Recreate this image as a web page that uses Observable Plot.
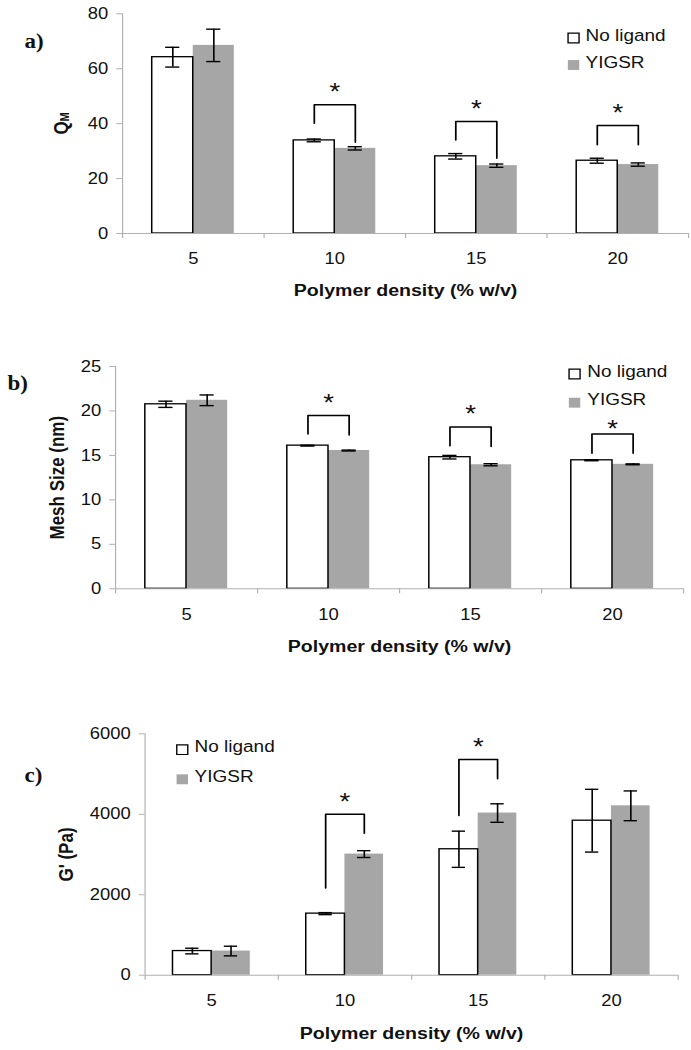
<!DOCTYPE html>
<html><head><meta charset="utf-8">
<script src="https://cdn.jsdelivr.net/npm/d3@7"></script>
<script src="https://cdn.jsdelivr.net/npm/@observablehq/plot@0.6"></script>
<style>
html,body{margin:0;padding:0;background:#fff;}
#fig{position:relative;width:691px;height:1050px;overflow:hidden;background:#fff;}
#fig svg{position:absolute;left:0;transform-origin:0 0;overflow:visible;}
</style></head><body><div id="fig"></div>
<script>
// ---------- data ----------
const categories = [5, 10, 15, 20];            // polymer density (% w/v)
const series = ["No ligand", "YIGSR"];

// a) Q_M
const qmNoLigand    = [64.2, 33.9, 28.1, 26.5];
const qmNoLigandErr = [3.6, 0.5, 1.0, 0.9];
const qmYIGSR       = [68.5, 31.0, 24.7, 25.1];
const qmYIGSRErr    = [5.9, 0.6, 0.6, 0.6];
const qmTicks       = [0, 20, 40, 60, 80];
const qmSigCats  = [10, 15, 20];
const qmSigTop   = [46.9, 40.8, 39.3];
const qmSigLeft  = [40.1, 34.0, 32.3];
const qmSigRight = [33.2, 27.4, 32.3];
const qmSigStar  = [53.5, 47.4, 46.0];

// b) Mesh size (nm)
const meshNoLigand    = [20.75, 16.1, 14.8, 14.45];
const meshNoLigandErr = [0.35, 0.05, 0.2, 0.05];
const meshYIGSR       = [21.2, 15.55, 13.95, 14.0];
const meshYIGSRErr    = [0.6, 0.05, 0.12, 0.05];
const meshTicks       = [0, 5, 10, 15, 20, 25];
const meshSigCats  = [10, 15, 20];
const meshSigTop   = [19.5, 18.2, 17.4];
const meshSigLeft  = [17.4, 16.1, 15.25];
const meshSigRight = [17.3, 16.0, 15.25];
const meshSigStar  = [21.5, 20.3, 18.6];

// c) G' (Pa)
const gNoLigand    = [600, 1530, 3130, 3840];
const gNoLigandErr = [70, 25, 450, 780];
const gYIGSR       = [600, 3010, 4030, 4210];
const gYIGSRErr    = [120, 85, 230, 370];
const gTicks       = [0, 2000, 4000, 6000];
const gSigCats  = [10, 15];
const gSigTop   = [4000, 5360];
const gSigLeft  = [2170, 3970];
const gSigRight = [3530, 4880];
const gSigStar  = [4440, 5820];

// ---------- drawing ----------
const S = 1.15, W = 691;
const GRAY = "#a6a6a6", AXIS = "#b0b0b0", INK = "#111";
const SANS = "'Liberation Sans', Arial, Helvetica, sans-serif";
const SERIF = "'Liberation Serif', 'Times New Roman', serif";
const fig = document.getElementById("fig");

function panel(p) {
  const step = categories[1] - categories[0];
  const xDomain = [categories[0] - step / 2, categories[categories.length - 1] + step / 2];
  const boundaries = [xDomain[0], ...categories.map(c => c + step / 2)];
  const bw = step * 0.29, cap = step * 0.05;
  const ml = p.left / S, mr = (W - p.right) / S;
  const mt = p.yTop - p.top, mb = p.top + p.height - p.yZero;
  const at = (xt, yt) => ({frameAnchor: "top-left", dx: xt / S - ml, dy: yt - p.yTop, lineAnchor: "middle"});

  const bars = [];
  series.forEach((name, s) => categories.forEach((c, i) => bars.push({
    c, s, v: p.values[s][i], e: p.errors[s][i], x: c + (s === 0 ? -bw / 2 : bw / 2)
  })));
  const brackets = [];
  p.sig.cats.forEach((c, k) => {
    brackets.push(
      {g: k, x: c - bw / 2, y: p.sig.left[k]},
      {g: k, x: c - bw / 2, y: p.sig.top[k]},
      {g: k, x: c + bw / 2, y: p.sig.top[k]},
      {g: k, x: c + bw / 2, y: p.sig.right[k]});
  });

  const marks = [
    Plot.rectY(bars.filter(d => d.s === 1), {x1: d => d.c, x2: d => d.c + bw, y: "v", fill: GRAY}),
    Plot.rectY(bars.filter(d => d.s === 0), {x1: d => d.c - bw, x2: d => d.c, y: "v", fill: "white", stroke: "black", strokeWidth: 1.3}),
    Plot.ruleY([0], {stroke: AXIS}),
    Plot.ruleX([xDomain[0]], {stroke: AXIS}),
    Plot.axisY({ticks: p.ticks, tickSize: 5, tickPadding: 7.5, tickFormat: d3.format("d"), stroke: AXIS, fill: INK, fontSize: 16, label: null}),
    Plot.axisX({ticks: boundaries, tickSize: 5, tickFormat: () => "", stroke: AXIS, label: null}),
    Plot.axisX({ticks: categories, tickSize: 0, tickPadding: 19.5, tickFormat: d3.format("d"), fill: INK, fontSize: 16, label: null}),
    Plot.ruleX(bars, {x: "x", y1: d => d.v - d.e, y2: d => d.v + d.e, stroke: "black", strokeWidth: 1.4}),
    Plot.ruleY(bars, {y: d => d.v - d.e, x1: d => d.x - cap, x2: d => d.x + cap, stroke: "black", strokeWidth: 1.4}),
    Plot.ruleY(bars, {y: d => d.v + d.e, x1: d => d.x - cap, x2: d => d.x + cap, stroke: "black", strokeWidth: 1.4}),
    Plot.line(brackets, {x: "x", y: "y", z: "g", stroke: "black", strokeWidth: 1.5}),
    Plot.text(p.sig.cats, {x: d => d, y: (d, k) => p.sig.star[k], text: () => "*", fontSize: 24, dy: 6, lineAnchor: "middle", fill: INK}),
    // legend
    Plot.dot([0], {...at(p.legend.sqX, p.legend.y[0] + 2.5), symbol: "square", r: 5.4, fill: "white", stroke: "black", strokeWidth: 1.2}),
    Plot.dot([0], {...at(p.legend.sqX, p.legend.y[1] + 2.5), symbol: "square", r: 5.6, fill: GRAY}),
    Plot.text([series[0]], {...at(p.legend.txtX, p.legend.y[0]), text: d => d, textAnchor: "start", fontSize: 16.5, fill: INK}),
    Plot.text([series[1]], {...at(p.legend.txtX, p.legend.y[1]), text: d => d, textAnchor: "start", fontSize: 16.5, fill: INK}),
    // panel label
    Plot.text([p.label.text], {...at(p.label.x, p.label.y), text: d => d, textAnchor: "start", fontFamily: SERIF, fontWeight: "bold", fontSize: 20, fill: INK}),
    // x title
    Plot.text(["Polymer density (% w/v)"], {frameAnchor: "bottom", dy: p.xTitleY - p.yZero, lineAnchor: "middle", text: d => d, fontWeight: "bold", fontSize: 17, fill: INK}),
    // y title parts
    ...p.yTitle.map(t => Plot.text([t.text], {...at(t.x, t.y), text: d => d, rotate: -90, textAnchor: "middle", fontWeight: "bold", fontSize: t.size || 17, fill: INK}))
  ];

  const svg = Plot.plot({
    width: W / S, height: p.height,
    marginLeft: ml, marginRight: mr, marginTop: mt, marginBottom: mb,
    x: {domain: xDomain, axis: null},
    y: {domain: p.domain, axis: null},
    style: {fontFamily: SANS, fontSize: "16px", color: INK, background: "transparent", overflow: "visible"},
    marks
  });
  svg.style.top = p.top + "px";
  svg.style.transform = `scaleX(${S})`;
  fig.append(svg);
}

panel({
  top: 0, height: 330, left: 122, right: 688, yTop: 13.3, yZero: 233,
  domain: [0, 80], ticks: qmTicks,
  values: [qmNoLigand, qmYIGSR], errors: [qmNoLigandErr, qmYIGSRErr],
  sig: {cats: qmSigCats, top: qmSigTop, left: qmSigLeft, right: qmSigRight, star: qmSigStar},
  label: {text: "a)", x: 24, y: 41},
  legend: {sqX: 573, txtX: 585, y: [35, 62]},
  yTitle: [{text: "Q", x: 61, y: 127.5, size: 17}, {text: "M", x: 64.5, y: 116.5, size: 11}],
  xTitleY: 290
});
panel({
  top: 330, height: 340, left: 115, right: 683, yTop: 366, yZero: 588.3,
  domain: [0, 25], ticks: meshTicks,
  values: [meshNoLigand, meshYIGSR], errors: [meshNoLigandErr, meshYIGSRErr],
  sig: {cats: meshSigCats, top: meshSigTop, left: meshSigLeft, right: meshSigRight, star: meshSigStar},
  label: {text: "b)", x: 7, y: 383},
  legend: {sqX: 574, txtX: 586.7, y: [371, 399.7]},
  yTitle: [{text: "Mesh Size (nm)", x: 57.5, y: 477.2}],
  xTitleY: 646
});
panel({
  top: 670, height: 380, left: 144.5, right: 677.6, yTop: 733.3, yZero: 974.7,
  domain: [0, 6000], ticks: gTicks,
  values: [gNoLigand, gYIGSR], errors: [gNoLigandErr, gYIGSRErr],
  sig: {cats: gSigCats, top: gSigTop, left: gSigLeft, right: gSigRight, star: gSigStar},
  label: {text: "c)", x: 24, y: 775},
  legend: {sqX: 181.7, txtX: 194, y: [746.7, 776.3]},
  yTitle: [{text: "G' (Pa)", x: 66.4, y: 854}],
  xTitleY: 1033
});
</script>
</body></html>
